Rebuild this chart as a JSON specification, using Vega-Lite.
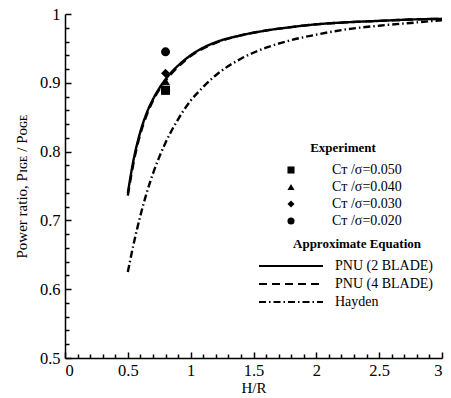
{
  "$schema": "https://vega.github.io/schema/vega-lite/v6.json",
  "width": 377,
  "height": 344,
  "autosize": {"type": "none"},
  "padding": {"left": 65, "top": 14, "right": 9, "bottom": 40},
  "background": "white",
  "config": {
    "view": {"stroke": null},
    "font": "'Liberation Serif', 'Times New Roman', serif",
    "axis": {
      "grid": false,
      "domainColor": "black",
      "domainWidth": 1.5,
      "tickColor": "black",
      "tickWidth": 1.5,
      "labelColor": "black",
      "labelFont": "'Liberation Serif', 'Times New Roman', serif",
      "labelFontSize": 16.5,
      "titleColor": "black",
      "titleFont": "'Liberation Serif', 'Times New Roman', serif",
      "titleFontSize": 15,
      "titleFontWeight": "normal"
    }
  },
  "datasets": {
    "curves": [
      {"hr": 0.5, "ratio": 0.740, "model": "PNU (2 BLADE)"},
      {"hr": 0.55, "ratio": 0.792, "model": "PNU (2 BLADE)"},
      {"hr": 0.6, "ratio": 0.829, "model": "PNU (2 BLADE)"},
      {"hr": 0.65, "ratio": 0.856, "model": "PNU (2 BLADE)"},
      {"hr": 0.7, "ratio": 0.876, "model": "PNU (2 BLADE)"},
      {"hr": 0.75, "ratio": 0.892, "model": "PNU (2 BLADE)"},
      {"hr": 0.8, "ratio": 0.905, "model": "PNU (2 BLADE)"},
      {"hr": 0.85, "ratio": 0.916, "model": "PNU (2 BLADE)"},
      {"hr": 0.9, "ratio": 0.925, "model": "PNU (2 BLADE)"},
      {"hr": 1.0, "ratio": 0.940, "model": "PNU (2 BLADE)"},
      {"hr": 1.1, "ratio": 0.951, "model": "PNU (2 BLADE)"},
      {"hr": 1.2, "ratio": 0.959, "model": "PNU (2 BLADE)"},
      {"hr": 1.4, "ratio": 0.969, "model": "PNU (2 BLADE)"},
      {"hr": 1.6, "ratio": 0.976, "model": "PNU (2 BLADE)"},
      {"hr": 1.8, "ratio": 0.981, "model": "PNU (2 BLADE)"},
      {"hr": 2.0, "ratio": 0.985, "model": "PNU (2 BLADE)"},
      {"hr": 2.25, "ratio": 0.988, "model": "PNU (2 BLADE)"},
      {"hr": 2.5, "ratio": 0.990, "model": "PNU (2 BLADE)"},
      {"hr": 2.75, "ratio": 0.992, "model": "PNU (2 BLADE)"},
      {"hr": 3.0, "ratio": 0.993, "model": "PNU (2 BLADE)"},
      {"hr": 0.5, "ratio": 0.736, "model": "PNU (4 BLADE)"},
      {"hr": 0.55, "ratio": 0.788, "model": "PNU (4 BLADE)"},
      {"hr": 0.6, "ratio": 0.826, "model": "PNU (4 BLADE)"},
      {"hr": 0.65, "ratio": 0.853, "model": "PNU (4 BLADE)"},
      {"hr": 0.7, "ratio": 0.874, "model": "PNU (4 BLADE)"},
      {"hr": 0.75, "ratio": 0.890, "model": "PNU (4 BLADE)"},
      {"hr": 0.8, "ratio": 0.903, "model": "PNU (4 BLADE)"},
      {"hr": 0.85, "ratio": 0.914, "model": "PNU (4 BLADE)"},
      {"hr": 0.9, "ratio": 0.923, "model": "PNU (4 BLADE)"},
      {"hr": 1.0, "ratio": 0.939, "model": "PNU (4 BLADE)"},
      {"hr": 1.1, "ratio": 0.950, "model": "PNU (4 BLADE)"},
      {"hr": 1.2, "ratio": 0.958, "model": "PNU (4 BLADE)"},
      {"hr": 1.4, "ratio": 0.969, "model": "PNU (4 BLADE)"},
      {"hr": 1.6, "ratio": 0.976, "model": "PNU (4 BLADE)"},
      {"hr": 1.8, "ratio": 0.981, "model": "PNU (4 BLADE)"},
      {"hr": 2.0, "ratio": 0.985, "model": "PNU (4 BLADE)"},
      {"hr": 2.25, "ratio": 0.988, "model": "PNU (4 BLADE)"},
      {"hr": 2.5, "ratio": 0.990, "model": "PNU (4 BLADE)"},
      {"hr": 2.75, "ratio": 0.992, "model": "PNU (4 BLADE)"},
      {"hr": 3.0, "ratio": 0.993, "model": "PNU (4 BLADE)"},
      {"hr": 0.5, "ratio": 0.625, "model": "Hayden"},
      {"hr": 0.55, "ratio": 0.669, "model": "Hayden"},
      {"hr": 0.6, "ratio": 0.707, "model": "Hayden"},
      {"hr": 0.65, "ratio": 0.740, "model": "Hayden"},
      {"hr": 0.7, "ratio": 0.768, "model": "Hayden"},
      {"hr": 0.75, "ratio": 0.792, "model": "Hayden"},
      {"hr": 0.8, "ratio": 0.813, "model": "Hayden"},
      {"hr": 0.9, "ratio": 0.847, "model": "Hayden"},
      {"hr": 1.0, "ratio": 0.874, "model": "Hayden"},
      {"hr": 1.1, "ratio": 0.894, "model": "Hayden"},
      {"hr": 1.2, "ratio": 0.911, "model": "Hayden"},
      {"hr": 1.4, "ratio": 0.935, "model": "Hayden"},
      {"hr": 1.6, "ratio": 0.951, "model": "Hayden"},
      {"hr": 1.8, "ratio": 0.962, "model": "Hayden"},
      {"hr": 2.0, "ratio": 0.970, "model": "Hayden"},
      {"hr": 2.25, "ratio": 0.978, "model": "Hayden"},
      {"hr": 2.5, "ratio": 0.983, "model": "Hayden"},
      {"hr": 2.75, "ratio": 0.987, "model": "Hayden"},
      {"hr": 3.0, "ratio": 0.991, "model": "Hayden"}
    ],
    "exp": [
      {"hr": 0.8, "ratio": 0.889, "case": "Cᴛ /σ=0.050"},
      {"hr": 0.8, "ratio": 0.902, "case": "Cᴛ /σ=0.040"},
      {"hr": 0.8, "ratio": 0.914, "case": "Cᴛ /σ=0.030"},
      {"hr": 0.8, "ratio": 0.945, "case": "Cᴛ /σ=0.020"}
    ]
  },
  "layer": [
    {
      "data": {"name": "curves"},
      "mark": {"type": "line", "color": "black", "strokeWidth": 2.4, "interpolate": "monotone"},
      "encoding": {
        "x": {
          "field": "hr", "type": "quantitative",
          "scale": {"domain": [0, 3], "nice": false, "zero": false},
          "axis": {"orient": "bottom", "title": "H/R", "values": [0, 0.5, 1, 1.5, 2, 2.5, 3], "format": ".1~f", "tickSize": -6, "labelPadding": 10, "titlePadding": 2}
        },
        "y": {
          "field": "ratio", "type": "quantitative",
          "scale": {"domain": [0.5, 1], "nice": false, "zero": false},
          "axis": {"orient": "left", "title": "Power ratio, Pɪɢᴇ / Pᴏɢᴇ", "values": [0.5, 0.6, 0.7, 0.8, 0.9, 1], "format": ".1~f", "tickSize": -6, "labelPadding": 11, "titlePadding": 10}
        },
        "strokeDash": {
          "field": "model", "type": "nominal",
          "scale": {"domain": ["PNU (2 BLADE)", "PNU (4 BLADE)", "Hayden"], "range": [[1, 0], [8, 5], [7, 3, 1.5, 3]]},
          "legend": {
            "orient": "none", "legendX": 217, "legendY": 224,
            "title": "Approximate Equation", "titleFont": "'Liberation Serif', 'Times New Roman', serif", "titleFontSize": 13, "titleFontWeight": "bold", "titleColor": "black", "titleAnchor": "middle", "titlePadding": 6,
            "labelFont": "'Liberation Serif', 'Times New Roman', serif", "labelFontSize": 14, "labelColor": "black", "labelOffset": 35,
            "symbolType": "M-4,0H4", "symbolSize": 256, "symbolStrokeColor": "black", "symbolStrokeWidth": 2, "rowPadding": 2
          }
        }
      }
    },
    {
      "data": {"name": "exp"},
      "mark": {"type": "point", "filled": true, "color": "black", "opacity": 1, "size": 81},
      "encoding": {
        "x": {
          "field": "hr", "type": "quantitative",
          "axis": {"orient": "bottom", "title": null, "values": [0.1, 0.2, 0.3, 0.4, 0.6, 0.7, 0.8, 0.9, 1.1, 1.2, 1.3, 1.4, 1.6, 1.7, 1.8, 1.9, 2.1, 2.2, 2.3, 2.4, 2.6, 2.7, 2.8, 2.9], "labels": false, "domain": false, "tickSize": -4}
        },
        "y": {
          "field": "ratio", "type": "quantitative",
          "axis": {"orient": "left", "title": null, "values": [0.52, 0.54, 0.56, 0.58, 0.62, 0.64, 0.66, 0.68, 0.72, 0.74, 0.76, 0.78, 0.82, 0.84, 0.86, 0.88, 0.92, 0.94, 0.96, 0.98], "labels": false, "domain": false, "tickSize": -4}
        },
        "shape": {
          "field": "case", "type": "nominal",
          "scale": {"domain": ["Cᴛ /σ=0.050", "Cᴛ /σ=0.040", "Cᴛ /σ=0.030", "Cᴛ /σ=0.020"], "range": ["square", "triangle-up", "diamond", "circle"]},
          "legend": {
            "orient": "none", "legendX": 219, "legendY": 128,
            "title": "Experiment", "titleFont": "'Liberation Serif', 'Times New Roman', serif", "titleFontSize": 13, "titleFontWeight": "bold", "titleColor": "black", "titleAnchor": "middle", "titlePadding": 8,
            "labelFont": "'Liberation Serif', 'Times New Roman', serif", "labelFontSize": 14, "labelColor": "black", "labelOffset": 34,
            "symbolSize": 50, "symbolFillColor": "black", "symbolStrokeColor": "black", "symbolStrokeWidth": 0, "rowPadding": 3
          }
        }
      }
    }
  ],
  "resolve": {"axis": {"x": "independent", "y": "independent"}}
}
